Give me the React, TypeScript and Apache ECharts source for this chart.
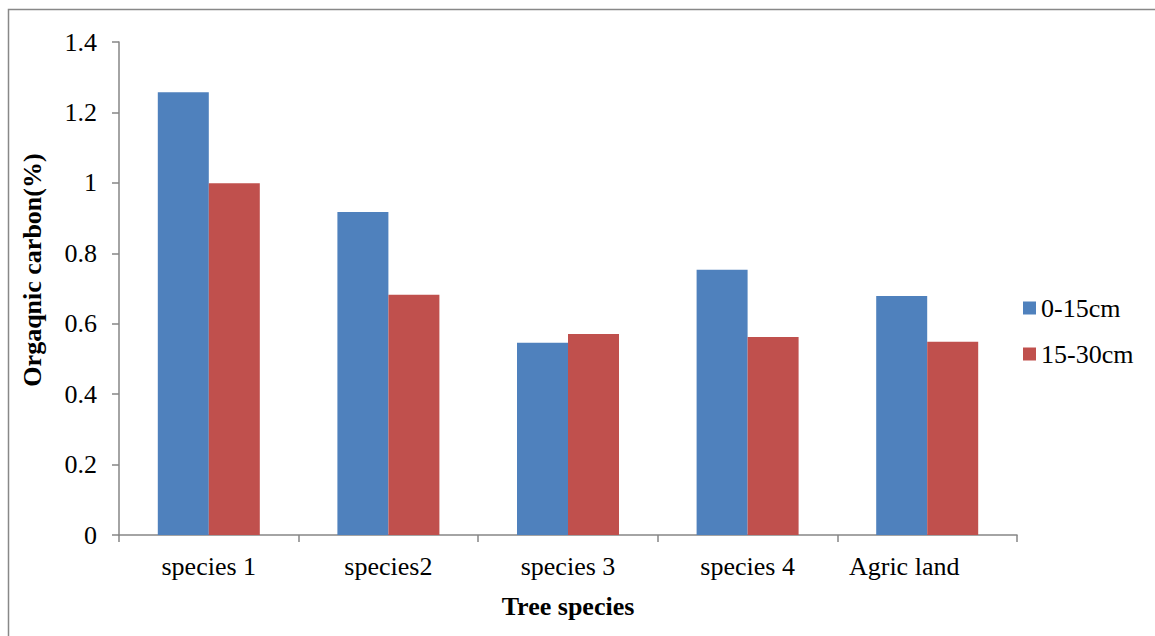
import React, { useEffect, useRef } from "react";
import * as echarts from "echarts";

const categories = ["species 1", "species2", "species 3", "species 4", "Agric land"];
const seriesNames = ["0-15cm", "15-30cm"];
const depth0to15 = [1.257, 0.917, 0.546, 0.753, 0.679];
const depth15to30 = [0.999, 0.682, 0.571, 0.562, 0.549];
const colors = ["#4F81BD", "#C0504D"];
const yTitle = "Orgaqnic carbon(%)";
const xTitle = "Tree species";

const FONT = "Liberation Serif";

export default function App() {
  const ref = useRef<HTMLDivElement>(null);
  useEffect(() => {
    if (!ref.current) return;
    const chart = echarts.init(ref.current, null, { renderer: "svg" });
    chart.setOption({
      animation: false,
      backgroundColor: "#ffffff",
      textStyle: { fontFamily: FONT },
      graphic: [
        {
          type: "rect",
          shape: { x: 8.5, y: 9.5, width: 1160, height: 640 },
          style: { fill: "none", stroke: "#888888", lineWidth: 1.5 },
          silent: true,
          z: -1,
        },
        {
          type: "text",
          x: 32,
          y: 270,
          rotation: Math.PI / 2,
          style: {
            text: yTitle,
            fontFamily: FONT,
            fontSize: 26,
            fontWeight: "bold",
            fill: "#000",
            align: "center",
            verticalAlign: "middle",
          },
        },
      ],
      grid: { left: 119, right: 138, top: 42, bottom: 101 },
      legend: {
        orient: "vertical",
        left: 1018,
        top: 290,
        itemWidth: 13,
        itemHeight: 13,
        itemGap: 20,
        icon: "rect",
        textStyle: { fontFamily: FONT, fontSize: 26, color: "#000" },
        data: seriesNames,
      },
      xAxis: {
        type: "category",
        data: categories,
        name: xTitle,
        nameLocation: "middle",
        nameGap: 58,
        nameTextStyle: { fontFamily: FONT, fontSize: 26, fontWeight: "bold", color: "#000" },
        axisLine: { lineStyle: { color: "#868686", width: 1.5 } },
        axisTick: { show: true, length: 7, interval: 0, alignWithLabel: false, lineStyle: { color: "#868686", width: 1.5 } },
        axisLabel: {
          fontFamily: FONT,
          fontSize: 26,
          color: "#000",
          margin: 18,
          interval: 0,
          formatter: (v: string, i: number) => (i === categories.length - 1 ? `{shift|${v}}` : v),
          rich: {
            shift: { fontFamily: FONT, fontSize: 26, color: "#000", padding: [0, 46, 0, 0] },
          },
        },
      },
      yAxis: {
        type: "value",
        min: 0,
        max: 1.4,
        interval: 0.2,
        axisLine: { show: true, lineStyle: { color: "#868686", width: 1.5 } },
        axisTick: { show: true, length: 7, lineStyle: { color: "#868686", width: 1.5 } },
        splitLine: { show: false },
        axisLabel: { fontFamily: FONT, fontSize: 26, color: "#000", margin: 22 },
      },
      series: [
        {
          name: seriesNames[0],
          type: "bar",
          data: depth0to15,
          barWidth: 51,
          barGap: "0%",
          itemStyle: { color: colors[0] },
        },
        {
          name: seriesNames[1],
          type: "bar",
          data: depth15to30,
          barWidth: 51,
          barGap: "0%",
          itemStyle: { color: colors[1] },
        },
      ],
    });
    return () => chart.dispose();
  }, []);
  return (
    <div
      ref={ref}
      style={{ position: "fixed", left: 0, top: 0, width: 1155, height: 636 }}
    />
  );
}
